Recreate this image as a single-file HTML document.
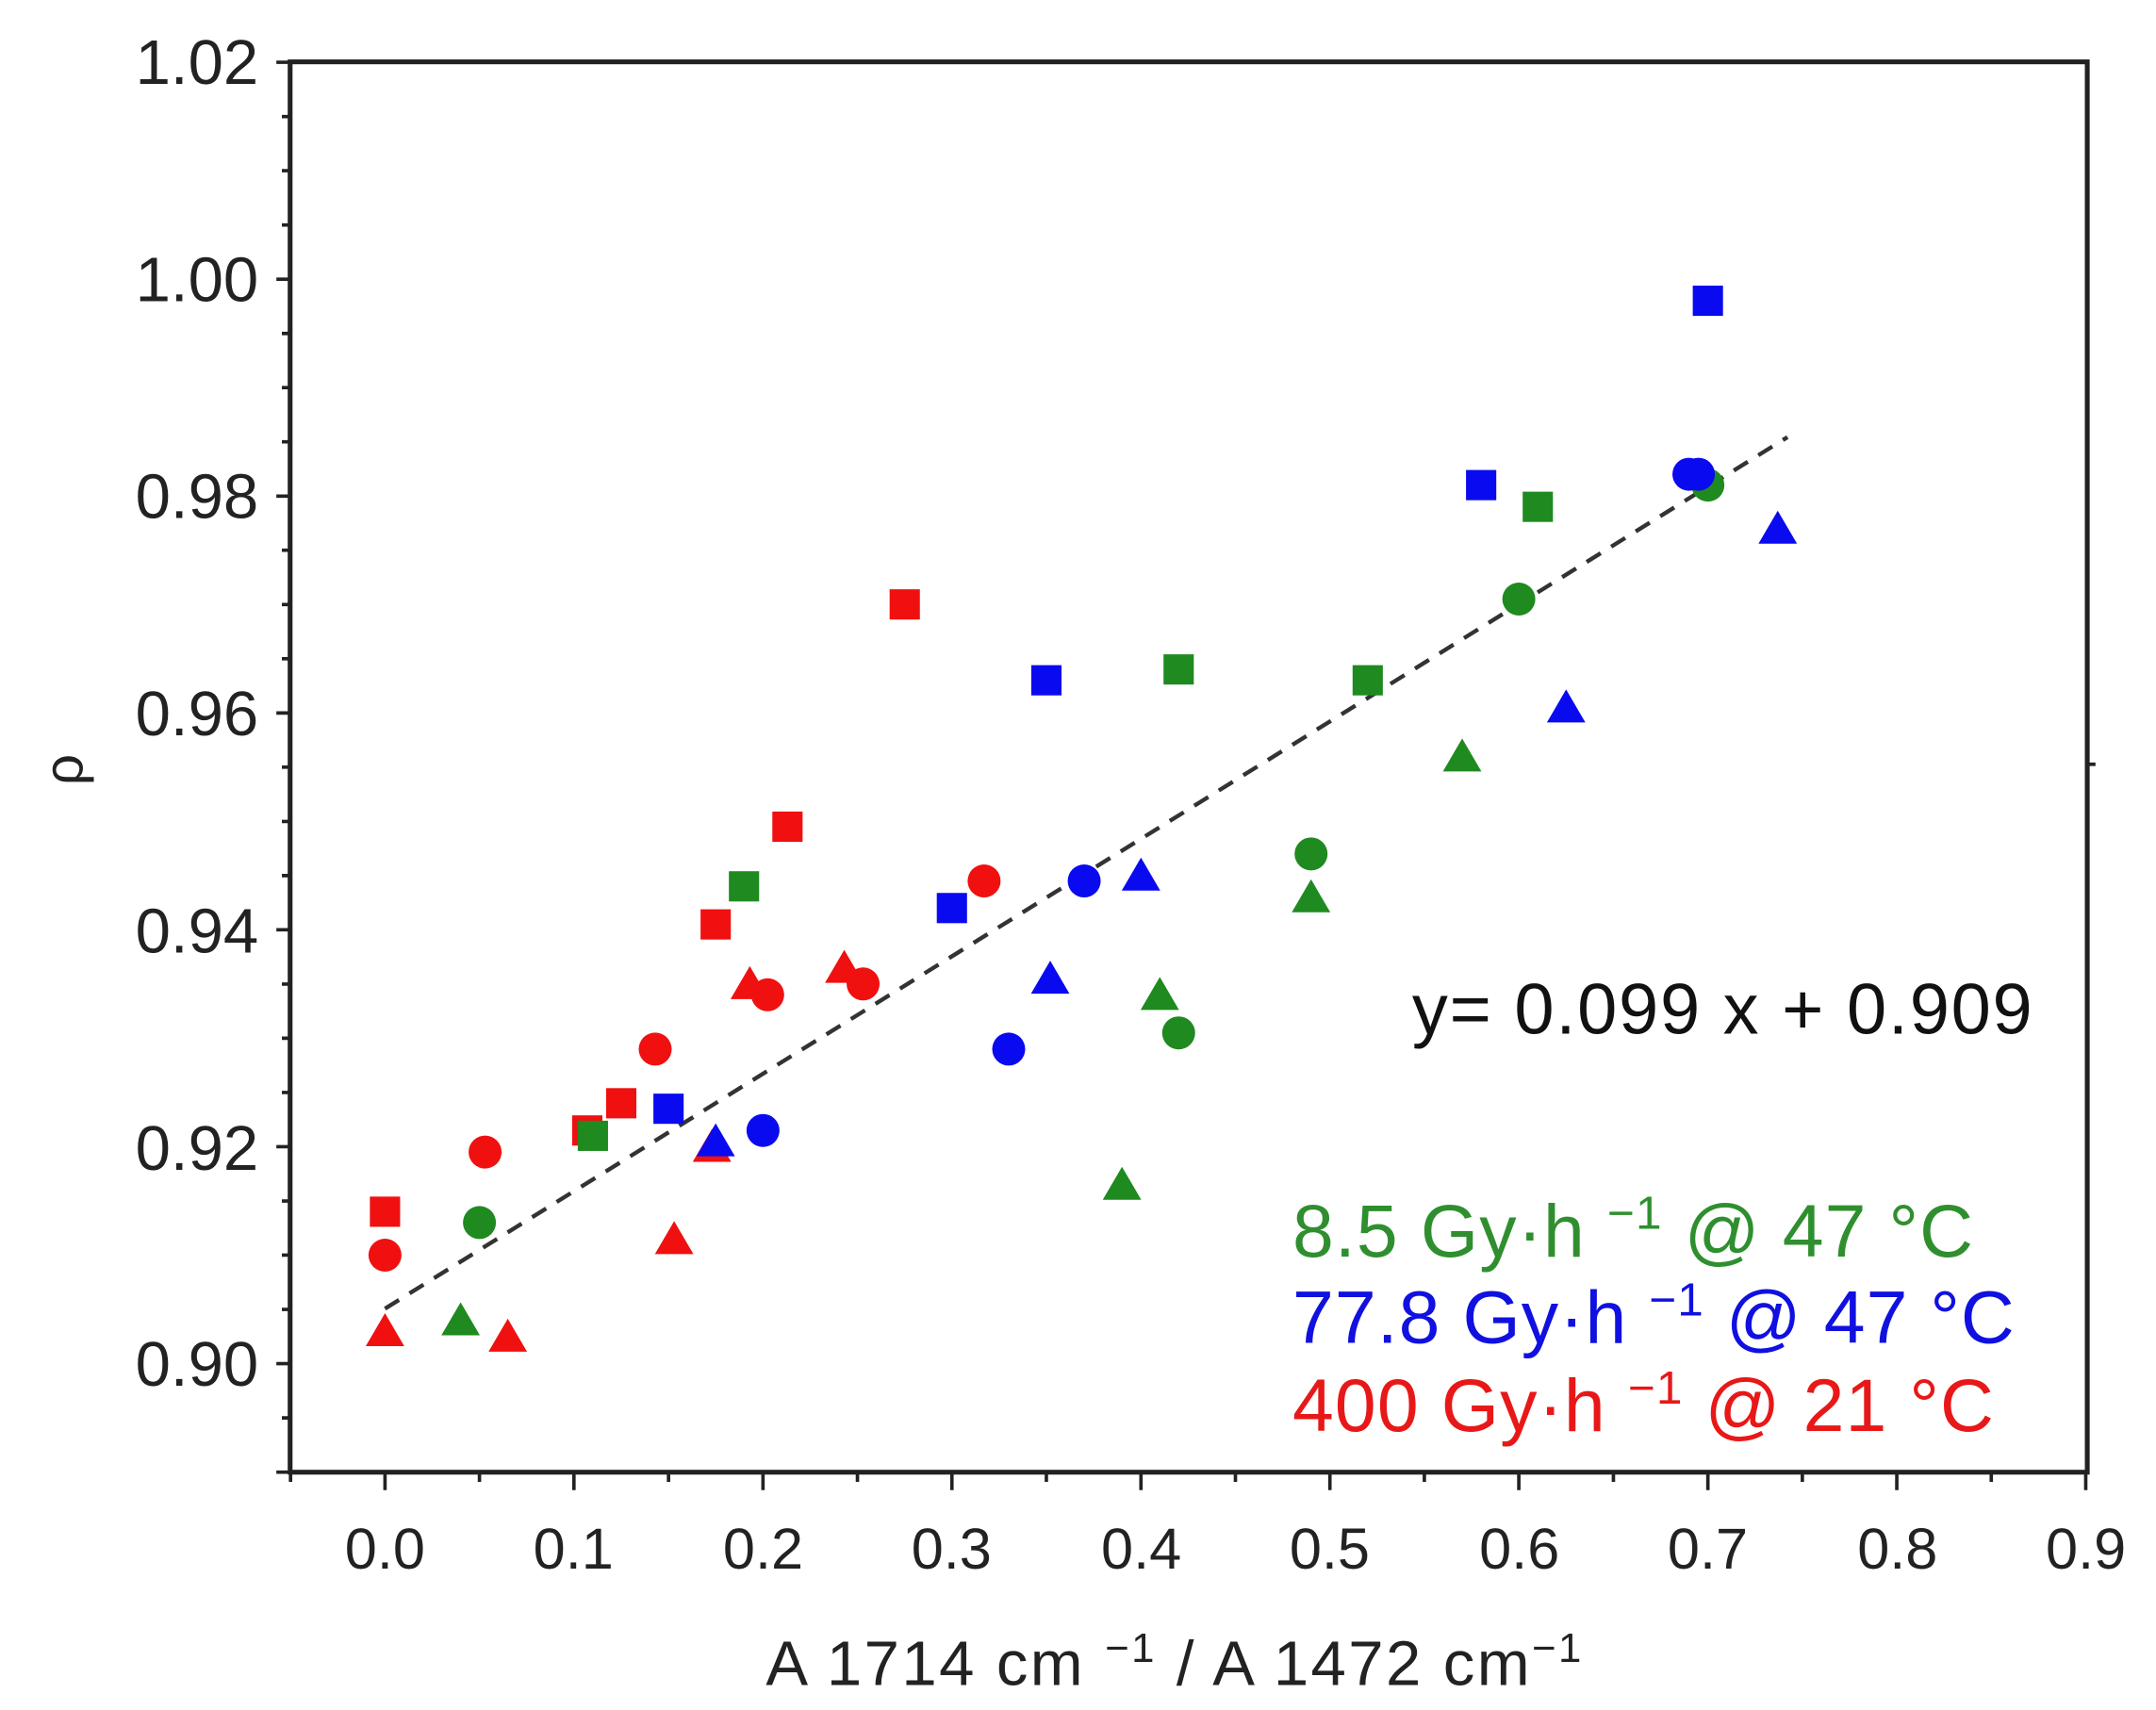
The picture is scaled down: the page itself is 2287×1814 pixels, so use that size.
<!DOCTYPE html>
<html><head><meta charset="utf-8"><style>
html,body{margin:0;padding:0;background:#fff;}
svg{display:block;}
text{font-family:"Liberation Sans",sans-serif;}
</style></head><body>
<svg width="2287" height="1814" viewBox="0 0 1568 1244" preserveAspectRatio="none" xmlns="http://www.w3.org/2000/svg" xmlns:xlink="http://www.w3.org/1999/xlink">
<defs>
<rect id="sq" x="-11" y="-11" width="22" height="22"/>
<circle id="ci" cx="0" cy="0" r="12"/>
<polygon id="tr" points="-14,11 14,11 0,-13"/>
</defs>
<rect width="1568" height="1244" fill="#fff"/>
<rect x="211" y="45" width="1307" height="1026" stroke="#222" stroke-width="3.5" fill="none"/>
<path stroke="#222" stroke-width="2.5" fill="none" d="
M201,1071H211 M205,1031.5H211 M201,992H211 M205,952.6H211 M205,913.1H211 M205,873.7H211 M201,834.2H211 M205,794.8H211 M205,755.3H211 M205,715.9H211 M201,676.4H211 M205,637H211 M205,597.6H211 M205,558.1H211 M201,518.7H211 M205,479.2H211 M205,439.8H211 M205,400.3H211 M201,360.9H211 M205,321.4H211 M205,282H211 M205,242.6H211 M201,203.1H211 M205,163.7H211 M205,124.2H211 M205,84.8H211 M201,45.3H211
M211.3,1071V1078 M280,1071V1084 M348.7,1071V1078 M417.4,1071V1084 M486.2,1071V1078 M554.9,1071V1084 M623.6,1071V1078 M692.3,1071V1084 M761,1071V1078 M829.8,1071V1084 M898.5,1071V1078 M967.2,1071V1084 M1035.9,1071V1078 M1104.6,1071V1084 M1173.4,1071V1078 M1242.1,1071V1084 M1310.8,1071V1078 M1379.5,1071V1084 M1448.2,1071V1078 M1516.9,1071V1084
M1518,556H1524"/>
<g font-size="46" fill="#222" text-anchor="end">
<text x="188" y="61">1.02</text>
<text x="188" y="219">1.00</text>
<text x="188" y="377">0.98</text>
<text x="188" y="535">0.96</text>
<text x="188" y="693">0.94</text>
<text x="188" y="851">0.92</text>
<text x="188" y="1008">0.90</text>
</g>
<g font-size="42" fill="#222" text-anchor="middle">
<text x="280" y="1141">0.0</text><text x="417" y="1141">0.1</text><text x="555" y="1141">0.2</text>
<text x="692" y="1141">0.3</text><text x="830" y="1141">0.4</text><text x="967" y="1141">0.5</text>
<text x="1105" y="1141">0.6</text><text x="1242" y="1141">0.7</text><text x="1380" y="1141">0.8</text>
<text x="1517" y="1141">0.9</text>
</g>
<text x="557" y="1226" font-size="46" fill="#222" textLength="593">A 1714 cm <tspan font-size="30" dy="-17">−1</tspan><tspan dy="17"> / A 1472 cm</tspan><tspan font-size="30" dy="-17">−1</tspan></text>
<text x="0" y="0" font-size="40" fill="#222" text-anchor="middle" transform="translate(60,560) rotate(-90)">ρ</text>
<line x1="280" y1="952" x2="1300" y2="318" stroke="#333" stroke-width="3" stroke-dasharray="12,9"/>
<g fill="#f01010">
<use xlink:href="#sq" x="280" y="881.5"/><use xlink:href="#sq" x="427.1" y="822.4"/><use xlink:href="#sq" x="451.8" y="802.6"/><use xlink:href="#sq" x="520.5" y="672.5"/><use xlink:href="#sq" x="572.7" y="601.4"/><use xlink:href="#sq" x="658" y="439.7"/>
<use xlink:href="#ci" x="280" y="913.1"/><use xlink:href="#ci" x="352.8" y="838.1"/><use xlink:href="#ci" x="476.5" y="763.2"/><use xlink:href="#ci" x="558.3" y="723.7"/><use xlink:href="#ci" x="627.7" y="715.8"/><use xlink:href="#ci" x="715.7" y="640.9"/>
<use xlink:href="#tr" x="280" y="968.3"/><use xlink:href="#tr" x="369.3" y="972.3"/><use xlink:href="#tr" x="490.3" y="901.3"/><use xlink:href="#tr" x="517.8" y="834.2"/><use xlink:href="#tr" x="545.3" y="715.8"/><use xlink:href="#tr" x="614" y="704"/>
</g>
<g fill="#1f8a1f">
<use xlink:href="#sq" x="431.2" y="826.3"/><use xlink:href="#sq" x="541.1" y="644.8"/><use xlink:href="#sq" x="857.2" y="487"/><use xlink:href="#sq" x="994.7" y="494.9"/><use xlink:href="#sq" x="1118.4" y="368.7"/>
<use xlink:href="#ci" x="348.7" y="889.4"/><use xlink:href="#ci" x="857.2" y="751.4"/><use xlink:href="#ci" x="953.5" y="621.2"/><use xlink:href="#ci" x="1104.6" y="435.8"/><use xlink:href="#ci" x="1242.1" y="352.9"/>
<use xlink:href="#tr" x="335" y="960.4"/><use xlink:href="#tr" x="816" y="861.8"/><use xlink:href="#tr" x="843.5" y="723.7"/><use xlink:href="#tr" x="953.5" y="652.7"/><use xlink:href="#tr" x="1063.4" y="550.2"/>
</g>
<g fill="#0a0af0">
<use xlink:href="#sq" x="486.2" y="806.6"/><use xlink:href="#sq" x="692.3" y="660.6"/><use xlink:href="#sq" x="761" y="494.9"/><use xlink:href="#sq" x="1077.2" y="352.9"/><use xlink:href="#sq" x="1242.1" y="218.8"/>
<use xlink:href="#ci" x="554.9" y="822.4"/><use xlink:href="#ci" x="733.6" y="763.2"/><use xlink:href="#ci" x="788.5" y="640.9"/><use xlink:href="#ci" x="1228.3" y="345"/><use xlink:href="#ci" x="1235.2" y="345"/>
<use xlink:href="#tr" x="520.5" y="830.2"/><use xlink:href="#tr" x="763.8" y="711.9"/><use xlink:href="#tr" x="829.8" y="636.9"/><use xlink:href="#tr" x="1139" y="514.6"/><use xlink:href="#tr" x="1292.9" y="384.5"/>
</g>
<text x="1027" y="752" font-size="52" fill="#111" textLength="451">y= 0.099 x + 0.909</text>
<g font-size="54">
<text x="940" y="914" fill="#2f8f2f" textLength="495">8.5 Gy·h <tspan font-size="34" dy="-20">−1</tspan><tspan dy="20"> @ 47 °C</tspan></text>
<text x="940" y="977" fill="#1010e0" textLength="525">77.8 Gy·h <tspan font-size="34" dy="-20">−1</tspan><tspan dy="20"> @ 47 °C</tspan></text>
<text x="940" y="1041" fill="#e81818" textLength="510">400 Gy·h <tspan font-size="34" dy="-20">−1</tspan><tspan dy="20"> @ 21 °C</tspan></text>
</g>
</svg>
</body></html>
